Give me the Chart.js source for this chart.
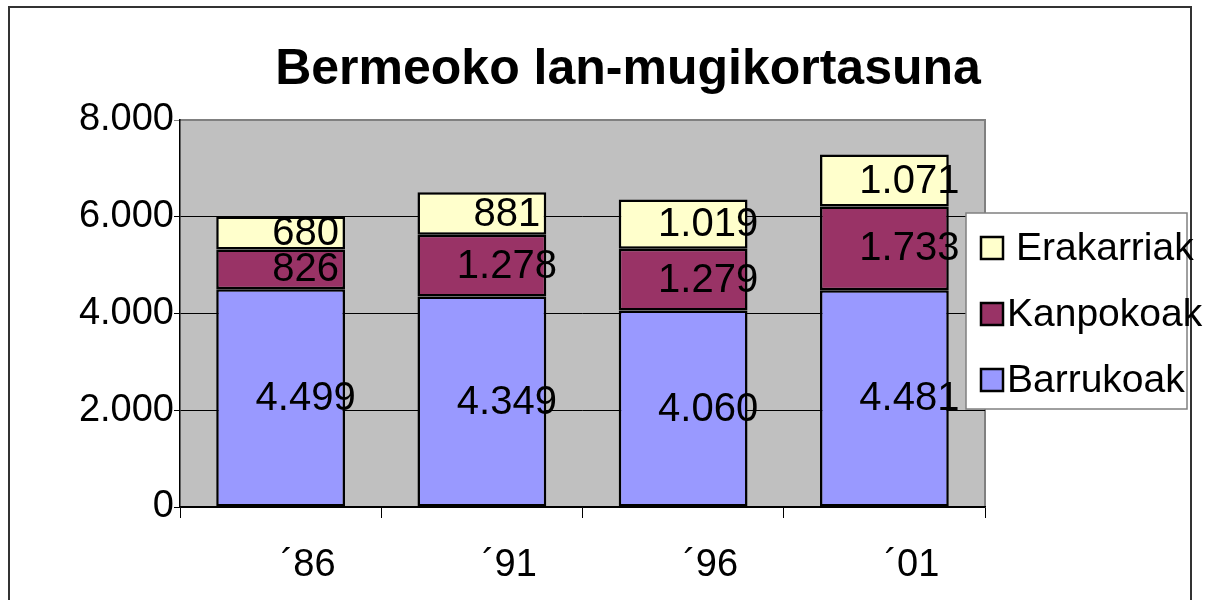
<!DOCTYPE html>
<html>
<head>
<meta charset="utf-8">
<script src="https://cdn.jsdelivr.net/npm/chart.js@4/dist/chart.umd.min.js"></script>
<style>
  body { margin: 0; background: #fff; }
  #chart { display: block; }
</style>
</head>
<body>
<canvas id="chart" width="1210" height="600"></canvas>
<script>
const titleText = 'Bermeoko lan-mugikortasuna';
const years = ['\u00B486', '\u00B491', '\u00B496', '\u00B401'];
const barrukoak = [4499, 4349, 4060, 4481];
const kanpokoak = [826, 1278, 1279, 1733];
const erakarriak = [680, 881, 1019, 1071];
const yTicks = [0, 2000, 4000, 6000, 8000];

const FONT = 'Arial, "Liberation Sans", sans-serif';

// 1.234 formatua
function formatNum(v) {
  return String(v).replace(/\B(?=(\d{3})+(?!\d))/g, '.');
}

// atzeko planoa eta markoa
const backgroundPlugin = {
  id: 'background',
  beforeDraw(chart) {
    const ctx = chart.ctx;
    const a = chart.chartArea;
    ctx.save();
    ctx.strokeStyle = '#333';
    ctx.lineWidth = 2;
    ctx.strokeRect(9, 7, 1182, 700);
    ctx.fillStyle = '#C0C0C0';
    ctx.fillRect(a.left, a.top, a.right - a.left, a.bottom - a.top);
    ctx.strokeStyle = '#808080';
    ctx.lineWidth = 2;
    ctx.beginPath();
    ctx.moveTo(a.left, a.top);
    ctx.lineTo(a.right, a.top);
    ctx.lineTo(a.right, a.bottom);
    ctx.stroke();
    ctx.restore();
  }
};

// balioak, izenburua eta legenda
const overlayPlugin = {
  id: 'overlay',
  afterDatasetsDraw(chart) {
    const ctx = chart.ctx;
    ctx.save();
    ctx.font = '40px ' + FONT;
    ctx.fillStyle = '#000';
    ctx.textAlign = 'center';
    ctx.textBaseline = 'middle';
    chart.data.datasets.forEach((ds, i) => {
      chart.getDatasetMeta(i).data.forEach((el, j) => {
        ctx.fillText(formatNum(ds.data[j]), el.x + 25, (el.y + el.base) / 2 + 1);
      });
    });
    ctx.restore();
  },
  afterDraw(chart) {
    const ctx = chart.ctx;
    ctx.save();
    ctx.font = 'bold 50px ' + FONT;
    ctx.fillStyle = '#000';
    ctx.textAlign = 'center';
    ctx.textBaseline = 'middle';
    ctx.fillText(titleText, 628, 70);

    // legenda
    ctx.fillStyle = '#fff';
    ctx.fillRect(966, 213, 221, 196);
    ctx.strokeStyle = '#808080';
    ctx.lineWidth = 1.5;
    ctx.strokeRect(966, 213, 221, 196);
    const items = chart.data.datasets.slice().reverse();
    const rowsY = [248, 314, 380];
    const textX = [1016, 1007, 1007];
    ctx.font = '39px ' + FONT;
    ctx.textAlign = 'left';
    items.forEach((ds, k) => {
      const y = rowsY[k];
      ctx.fillStyle = ds.backgroundColor;
      ctx.fillRect(981, y - 11, 22, 22);
      ctx.strokeStyle = '#000';
      ctx.lineWidth = 2.5;
      ctx.strokeRect(981, y - 11, 22, 22);
      ctx.fillStyle = '#000';
      ctx.fillText(ds.label, textX[k], y + 1);
    });
    ctx.restore();
  }
};

new Chart(document.getElementById('chart'), {
  type: 'bar',
  data: {
    labels: years,
    datasets: [
      { label: 'Barrukoak', data: barrukoak, backgroundColor: '#9999FF' },
      { label: 'Kanpokoak', data: kanpokoak, backgroundColor: '#993366' },
      { label: 'Erakarriak', data: erakarriak, backgroundColor: '#FFFFCC' }
    ]
  },
  options: {
    responsive: false,
    animation: false,
    layout: { padding: { left: 0, right: 225, top: 120, bottom: 0 } },
    datasets: {
      bar: {
        borderColor: '#000',
        borderWidth: 2.5,
        borderSkipped: false,
        categoryPercentage: 1,
        barPercentage: 0.64
      }
    },
    plugins: {
      legend: { display: false },
      title: { display: false },
      tooltip: { enabled: false }
    },
    scales: {
      x: {
        stacked: true,
        afterFit(s) { s.height = 93; },
        border: { color: '#000', width: 1.5 },
        grid: {
          offset: true,
          drawOnChartArea: false,
          drawTicks: true,
          tickLength: 11,
          color: '#000',
          lineWidth: 1
        },
        ticks: {
          color: '#000',
          font: { family: FONT, size: 38 },
          align: 'start',
          padding: 25,
          maxRotation: 0
        }
      },
      y: {
        stacked: true,
        min: 0,
        max: 8000,
        afterFit(s) { s.width = 180; },
        afterBuildTicks(s) { s.ticks = yTicks.map(v => ({ value: v })); },
        border: { color: '#000', width: 1.5 },
        grid: {
          color: ctx => (ctx.tick && ctx.tick.value === 8000 ? '#808080' : '#000'),
          lineWidth: 1,
          tickLength: 6
        },
        ticks: {
          color: '#000',
          font: { family: FONT, size: 38 },
          padding: 0,
          callback: v => formatNum(v)
        }
      }
    }
  },
  plugins: [backgroundPlugin, overlayPlugin]
});
</script>
</body>
</html>
